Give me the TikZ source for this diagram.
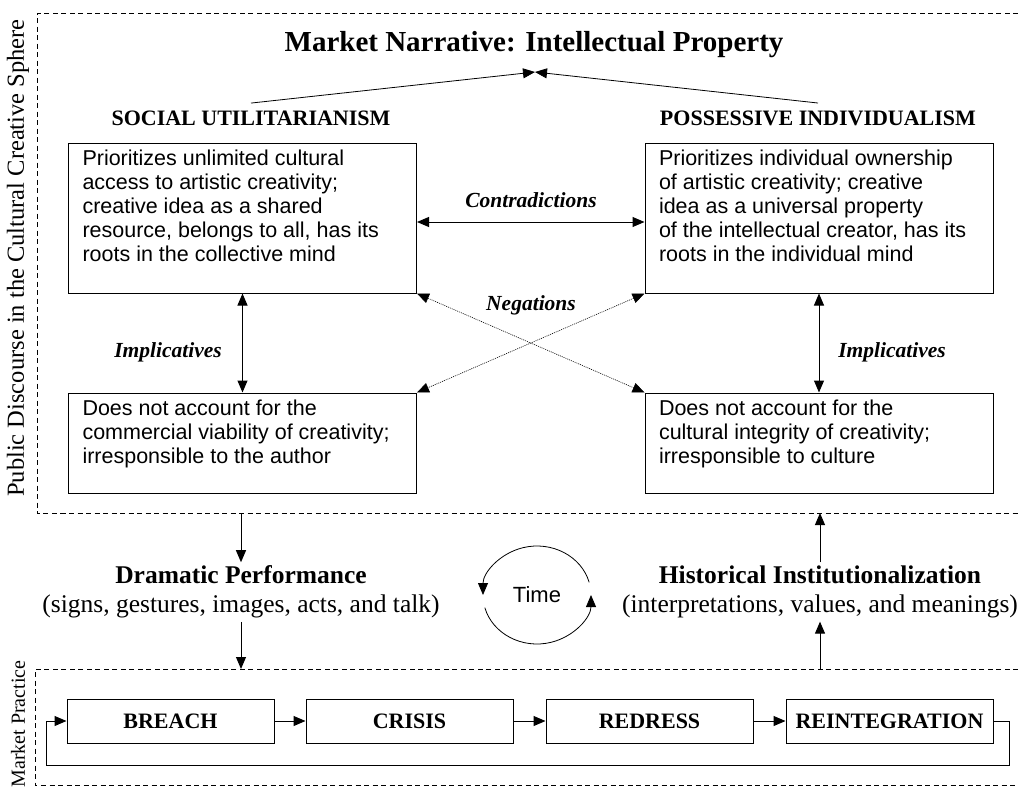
\documentclass[tikz,border=0pt]{standalone}
\usepackage{fontspec}
\setmainfont{Liberation Serif}
\newfontfamily\boxfont{Liberation Sans}
\usetikzlibrary{arrows.meta}

\tikzset{
	frame/.style = {dash pattern = on 5pt off 3.5pt, line width = 0.8pt},
	textbox/.style = {draw, line width = 1pt, inner xsep = 14pt, inner ysep = 7pt,
		font = \boxfont\fontsize{21.5}{24}\selectfont},
	stagebox/.style = {draw, line width = 1pt, minimum width = 207pt, minimum height = 44pt,
		inner sep = 0pt, font = \bfseries\fontsize{22}{26}\selectfont},
	head/.style = {font = \bfseries\fontsize{22}{24}\selectfont},
	relation/.style = {font = \bfseries\itshape\fontsize{21.5}{24}\selectfont},
	arrowline/.style = {-{Triangle[length = 12pt, width = 10pt]}, line width = 1pt},
	twoway/.style = {{Triangle[length = 12pt, width = 10pt]}-{Triangle[length = 12pt, width = 10pt]}, line width = 1pt},
}
\newcommand{\boxlines}[2]{\parbox[c][#1][t]{320pt}{#2}}

\begin{document}
\begin{tikzpicture}[x = 1pt, y = -1pt]
	\useasboundingbox (0, 0) rectangle (1018, 793);

	% frames
	\draw [frame] (1018, 13) -- (37, 13) -- (37, 513) -- (1018, 513);
	\draw [frame] (1018, 669) -- (35, 669) -- (35, 785) -- (1018, 785);
	\node [rotate = 90, font = \fontsize{24.5}{26}\selectfont] (pubdisc) at (18, 258) {Public Discourse in the Cultural Creative Sphere};
	\node [rotate = 90, font = \fontsize{20}{22}\selectfont, inner sep = 0pt] (mktprac) at (18, 724) {Market Practice};

	% market narrative
	\node [font = \bfseries\fontsize{29}{32}\selectfont] (title) at (534, 45) {Market Narrative: Intellectual Property};
	\node [head] (sutitle) at (251, 118) {SOCIAL UTILITARIANISM};
	\node [head] (pititle) at (818, 118) {POSSESSIVE INDIVIDUALISM};
	\coordinate (meet) at (535, 72);
	\draw [arrowline, line width = 0.8pt] ([yshift = 4pt]sutitle.north) -- (meet);
	\draw [arrowline, line width = 0.8pt] ([yshift = 4pt]pititle.north) -- (meet);

	\node [textbox] (su) at (242.5, 218) {\boxlines{136pt}{Prioritizes unlimited cultural\\
		access to artistic creativity;\\
		creative idea as a shared\\
		resource, belongs to all, has its\\
		roots in the collective mind}};
	\node [textbox] (pi) at (819, 218) {\boxlines{136pt}{Prioritizes individual ownership\\
		of artistic creativity; creative\\
		idea as a universal property\\
		of the intellectual creator, has its\\
		roots in the individual mind}};
	\node [textbox] (sd) at (242.5, 443) {\boxlines{86pt}{Does not account for the\\
		commercial viability of creativity;\\
		irresponsible to the author}};
	\node [textbox] (pd) at (819, 443) {\boxlines{86pt}{Does not account for the\\
		cultural integrity of creativity;\\
		irresponsible to culture}};

	\draw [twoway] ([yshift = -4pt]su.east) -- ([yshift = -4pt]pi.west);
	\node [relation] (contra) at (531, 200) {Contradictions};
	\draw [twoway, densely dotted, line width = 0.6pt] (su.south east) -- (pd.north west);
	\draw [twoway, densely dotted, line width = 0.6pt] (pi.south west) -- (sd.north east);
	\node [relation] (negat) at (531, 305) {Negations};
	\draw [twoway] (su.south) -- (sd.north);
	\draw [twoway] (pi.south) -- (pd.north);
	\node [relation] (impll) at (168, 352) {Implicatives};
	\node [relation] (implr) at (892, 352) {Implicatives};

	% performance and institutionalization
	\coordinate (dtop) at (241, 513);
	\coordinate (dbot) at (241, 669);
	\coordinate (htop) at (820, 513);
	\coordinate (hbot) at (820, 669);
	\node [align = center, font = \fontsize{25.5}{29}\selectfont] (drama) at (241, 592) {\textbf{Dramatic Performance}\\(signs, gestures, images, acts, and talk)};
	\node [align = center, font = \fontsize{25.5}{29}\selectfont] (hist) at (820, 592) {\textbf{Historical Institutionalization}\\(interpretations, values, and meanings)};
	\draw [arrowline] (dtop) -- (drama.north);
	\draw [arrowline] (drama.south) -- (dbot);
	\draw [arrowline] (hbot) -- (hist.south);
	\draw [arrowline] (hist.north) -- (htop);

	% time
	\node [font = \boxfont\fontsize{22}{24}\selectfont] (time) at (537, 595) {Time};
	\draw [arrowline, line width = 0.8pt] ([shift = {(-15:54 and 49)}]time.center) arc [start angle = -15, end angle = -180, x radius = 54, y radius = 49];
	\draw [arrowline, line width = 0.8pt] ([shift = {(165:54 and 49)}]time.center) arc [start angle = 165, end angle = 0, x radius = 54, y radius = 49];

	% social drama
	\node [stagebox] (breach) at (170.5, 721) {BREACH};
	\node [stagebox] (crisis) at (409.5, 721) {CRISIS};
	\node [stagebox] (redress) at (649.5, 721) {REDRESS};
	\node [stagebox] (reint) at (889.5, 721) {REINTEGRATION};
	\draw [arrowline] (breach) -- (crisis);
	\draw [arrowline] (crisis) -- (redress);
	\draw [arrowline] (redress) -- (reint);
	\draw [arrowline] (reint.east) -- ++(16, 0) -- ++(0, 44) -| ([xshift = -20pt]breach.west) -- (breach.west);
\end{tikzpicture}
\end{document}
